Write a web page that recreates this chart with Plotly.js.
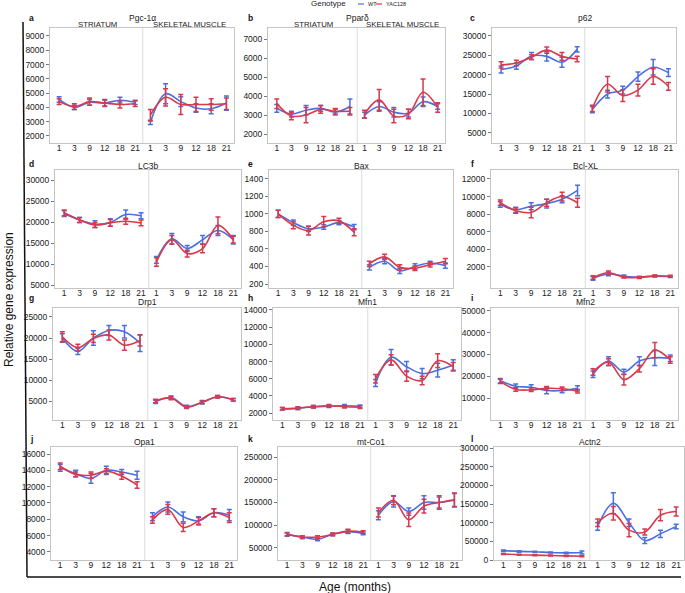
<!DOCTYPE html>
<html>
<head>
<meta charset="utf-8">
<script src="https://cdn.plot.ly/plotly-3.0.1.min.js"></script>
<style>
  html, body { margin: 0; padding: 0; background: #fff; }
  #chart { width: 685px; height: 593px; }
</style>
</head>
<body>
<div id="chart"></div>
<script>
// ages (months) shown under both tissue blocks
const ages = ['1', '3', '9', '12', '18', '21'];
const genes = ['Pgc-1α', 'Pparδ', 'p62', 'LC3b', 'Bax', 'Bcl-XL', 'Drp1', 'Mfn1', 'Mfn2', 'Opa1', 'mt-Co1', 'Actn2'];
const letters = ['a', 'b', 'c', 'd', 'e', 'f', 'g', 'h', 'i', 'j', 'k', 'l'];

// group means, one row per gene
const wtStriatum = [
  [4550, 4000, 4350, 4300, 4500, 4350],
  [3350, 3050, 3250, 3350, 3150, 3450],
  [21300, 22200, 24800, 24700, 23200, 26500],
  [22000, 20500, 19500, 19900, 21800, 21500],
  [1000, 900, 830, 850, 900, 850],
  [9100, 8500, 8900, 9200, 9700, 10700],
  [20000, 16800, 20000, 21800, 21500, 18800],
  [2500, 2550, 2750, 2800, 2850, 2800],
  [18000, 15500, 15000, 13500, 13500, 14500],
  [14300, 13600, 13000, 14000, 13800, 13400],
  [80000, 74000, 69000, 80000, 86000, 82000],
  [25000, 23000, 22000, 20000, 19000, 20000]
];
const wtStriatumErr = [
  [200, 150, 200, 200, 200, 150],
  [200, 150, 250, 150, 150, 400],
  [900, 800, 900, 1200, 1300, 700],
  [700, 600, 800, 900, 1100, 700],
  [40, 30, 30, 25, 25, 30],
  [300, 300, 400, 500, 400, 600],
  [1000, 700, 1700, 1200, 1500, 2000],
  [150, 150, 150, 150, 150, 150],
  [1000, 1000, 1200, 1500, 1000, 1200],
  [400, 400, 600, 500, 300, 500],
  [4000, 3000, 3000, 3000, 4000, 3000],
  [2000, 2000, 1500, 1500, 1500, 4000]
];
const yacStriatum = [
  [4400, 4050, 4400, 4300, 4200, 4250],
  [3600, 2950, 3000, 3300, 3200, 3200],
  [22500, 23000, 24500, 26300, 24700, 24000],
  [22200, 20500, 19300, 19800, 20200, 19800],
  [1000, 870, 810, 910, 920, 790],
  [9300, 8400, 8200, 9300, 10000, 9300],
  [20300, 17700, 19900, 20700, 18300, 19400],
  [2500, 2600, 2750, 2850, 2750, 2700],
  [17700, 14000, 13800, 14500, 14300, 13200],
  [14500, 13500, 13400, 13900, 13300, 12200],
  [80000, 74000, 74000, 80000, 87000, 85000],
  [16000, 14000, 13000, 12000, 11000, 10000]
];
const yacStriatumErr = [
  [200, 200, 250, 250, 250, 200],
  [250, 200, 400, 200, 150, 200],
  [800, 700, 600, 800, 1000, 700],
  [700, 600, 600, 800, 700, 700],
  [40, 40, 50, 60, 30, 40],
  [300, 300, 600, 400, 500, 500],
  [1200, 800, 1000, 1200, 1200, 1300],
  [150, 150, 150, 150, 150, 150],
  [1000, 800, 800, 800, 800, 800],
  [400, 300, 400, 300, 400, 400],
  [3000, 3000, 3000, 3000, 4000, 3000],
  [1500, 1500, 1500, 1500, 1500, 1500]
];
const wtMuscle = [
  [2950, 4950, 4400, 3950, 3900, 4300],
  [3000, 3450, 3150, 3100, 3700, 3450],
  [11000, 15000, 16000, 19500, 21900, 20500],
  [11000, 16000, 13700, 15800, 18000, 15800],
  [390, 460, 350, 400, 440, 410],
  [700, 1200, 950, 850, 950, 900],
  [4800, 5800, 3700, 4700, 6000, 5300],
  [5500, 8500, 7400, 6600, 7000, 7600],
  [21000, 27000, 22000, 27000, 28500, 28300],
  [8300, 9500, 8300, 7800, 8800, 8500],
  [122000, 152000, 130000, 150000, 150000, 155000],
  [90000, 152000, 100000, 52000, 70000, 90000]
];
const wtMuscleErr = [
  [150, 700, 350, 300, 350, 500],
  [150, 250, 250, 200, 250, 150],
  [800, 1000, 1000, 1200, 2000, 1000],
  [800, 1300, 700, 1000, 1200, 1000],
  [30, 30, 30, 30, 20, 30],
  [200, 200, 150, 100, 100, 100],
  [400, 400, 300, 400, 300, 300],
  [400, 900, 600, 600, 800, 600],
  [1500, 2000, 1200, 2000, 3500, 1500],
  [500, 600, 600, 500, 500, 700],
  [10000, 12000, 8000, 15000, 12000, 15000],
  [10000, 28000, 10000, 8000, 10000, 6000]
];
const yacMuscle = [
  [3450, 4700, 4200, 4200, 4200, 4250],
  [3050, 3800, 2950, 3050, 4200, 3400],
  [11300, 17500, 14600, 16000, 19500, 17000],
  [10500, 15800, 12500, 13700, 19200, 15800],
  [430, 510, 390, 380, 420, 460],
  [800, 1350, 850, 800, 1000, 950],
  [5000, 5700, 3500, 4700, 6000, 5300],
  [6000, 8200, 6300, 5800, 8100, 7400],
  [22000, 26500, 18500, 23500, 32000, 27500],
  [7900, 9200, 7000, 7800, 8800, 8200],
  [128000, 155000, 112000, 142000, 150000, 156000],
  [100000, 125000, 80000, 75000, 120000, 130000]
];
const yacMuscleErr = [
  [400, 600, 700, 500, 400, 400],
  [200, 550, 350, 250, 700, 250],
  [800, 2000, 1500, 1500, 2000, 1000],
  [1000, 1000, 800, 1000, 2000, 800],
  [30, 30, 30, 25, 25, 30],
  [200, 200, 100, 100, 100, 100],
  [400, 400, 300, 300, 300, 300],
  [500, 600, 600, 500, 800, 500],
  [1500, 1500, 2500, 1500, 3500, 1500],
  [400, 600, 500, 400, 500, 600],
  [10000, 10000, 15000, 15000, 15000, 15000],
  [10000, 18000, 18000, 8000, 15000, 12000]
];

// y axis ranges and tick steps per panel
const yRanges = [
  [1500, 9560], [1530, 7580], [2400, 32000],
  [4300, 32400], [155, 1500], [-390, 13020],
  [480, 27140], [1200, 14230], [0, 51300],
  [3000, 16860], [23600, 272000], [0, 302700]
];
const yTicks = [
  [2000, 9000, 1000], [2000, 7000, 1000], [5000, 30000, 5000],
  [5000, 30000, 5000], [200, 1400, 200], [2000, 12000, 2000],
  [5000, 25000, 5000], [2000, 14000, 2000], [10000, 50000, 10000],
  [4000, 16000, 2000], [50000, 250000, 50000], [0, 300000, 50000]
];

const W = 685, H = 593;
// plot boxes in pixels: left, right, top, bottom
const boxes = [
  [50, 234, 28, 143], [268, 445, 28, 143], [492, 676, 28, 143],
  [55, 241, 170, 288], [269, 453, 170, 288], [491, 678, 170, 288],
  [53, 241, 308, 420], [273, 461, 308, 420], [491, 678, 308, 420],
  [51, 237, 447, 560], [278, 462, 447, 560], [494, 684, 447, 560]
];
const rowTitleY = [18, 166, 302, 442];
const rowLetterY = [18, 164, 298, 439];
const colLetterX = [31, 250, 472];

const blue = '#4a70e0';
const red = '#d8394c';
const font = 'Liberation Sans, Arial, sans-serif';

const traces = [];
const layout = {
  width: W, height: H,
  margin: { l: 0, r: 0, t: 0, b: 0 },
  paper_bgcolor: '#fff', plot_bgcolor: '#fff',
  showlegend: false,
  font: { family: font, size: 8.5, color: '#222' },
  shapes: [], annotations: []
};

function line(x, vals, errs, color, xa, ya) {
  return {
    x: x, y: vals, xaxis: xa, yaxis: ya,
    type: 'scatter', mode: 'lines',
    line: { color: color, width: 1.6, shape: 'spline', smoothing: 1 },
    error_y: { type: 'data', array: errs, color: color, thickness: 1.5, width: 2.5 },
    hoverinfo: 'skip'
  };
}

const xStr = [0, 1, 2, 3, 4, 5];
const xMus = [6, 7, 8, 9, 10, 11];

for (let p = 0; p < 12; p++) {
  const s = p === 0 ? '' : String(p + 1);
  const xa = 'x' + s, ya = 'y' + s;
  const [L, R, T, B] = boxes[p];
  const [t0, t1, dt] = yTicks[p];
  const tv = [];
  for (let v = t0; v <= t1; v += dt) tv.push(v);

  layout['xaxis' + s] = {
    domain: [L / W, R / W], anchor: ya,
    range: [-0.6, 11.5],
    tickmode: 'array', tickvals: [0, 1, 2, 3, 4, 5, 6, 7, 8, 9, 10, 11],
    ticktext: ages.concat(ages),
    ticks: '', ticklabelstandoff: -3,
    showgrid: false, zeroline: false,
    showline: true, mirror: true, linecolor: '#c4c4c4', linewidth: 1,
    tickfont: { size: 8.5, family: font, color: '#222' }
  };
  layout['yaxis' + s] = {
    domain: [1 - B / H, 1 - T / H], anchor: xa,
    range: yRanges[p],
    tickmode: 'array', tickvals: tv, tickformat: 'd',
    ticks: 'outside', ticklen: 3, tickcolor: '#777',
    showgrid: false, zeroline: false,
    showline: true, mirror: true, linecolor: '#c4c4c4', linewidth: 1,
    tickfont: { size: 8.5, family: font, color: '#222' }
  };

  traces.push(line(xStr, wtStriatum[p], wtStriatumErr[p], blue, xa, ya));
  traces.push(line(xMus, wtMuscle[p], wtMuscleErr[p], blue, xa, ya));
  traces.push(line(xStr, yacStriatum[p], yacStriatumErr[p], red, xa, ya));
  traces.push(line(xMus, yacMuscle[p], yacMuscleErr[p], red, xa, ya));

  // divider between striatum and skeletal muscle
  layout.shapes.push({
    type: 'line', xref: xa, yref: ya + ' domain',
    x0: 5.5, x1: 5.5, y0: 0, y1: 1,
    line: { color: '#dcdcdc', width: 1 }
  });

  const row = Math.floor(p / 3), col = p % 3;
  layout.annotations.push({
    text: genes[p], xref: xa, yref: 'paper', x: 5.5, y: 1 - rowTitleY[row] / H,
    showarrow: false, xanchor: 'center', yanchor: 'middle',
    font: { size: 8.5, family: font, color: '#222' }
  });
  layout.annotations.push({
    text: '<b>' + letters[p] + '</b>', xref: 'paper', yref: 'paper',
    x: colLetterX[col] / W, y: 1 - rowLetterY[row] / H,
    showarrow: false, xanchor: 'center', yanchor: 'middle',
    font: { size: 8.5, family: font, color: '#111' }
  });
}

// tissue headers on the first two panels
[['x', 2.5, 'STRIATUM'], ['x', 8.6, 'SKELETAL MUSCLE'], ['x2', 2.5, 'STRIATUM'], ['x2', 8.6, 'SKELETAL MUSCLE']].forEach(h => {
  layout.annotations.push({
    text: h[2], xref: h[0], yref: 'paper', x: h[1], y: 1 - 24.5 / H,
    showarrow: false, xanchor: 'center', yanchor: 'middle',
    font: { size: 7.8, family: font, color: '#222' }
  });
});

// legend
layout.annotations.push(
  { text: 'Genotype', xref: 'paper', yref: 'paper', x: 328 / W, y: 1 - 4 / H, showarrow: false,
    xanchor: 'center', yanchor: 'middle', font: { size: 8, family: font, color: '#222' } },
  { text: 'WT', xref: 'paper', yref: 'paper', x: 366 / W, y: 1 - 4 / H, showarrow: false,
    xanchor: 'left', yanchor: 'middle', font: { size: 5.5, family: font, color: '#222' } },
  { text: 'YAC128', xref: 'paper', yref: 'paper', x: 384 / W, y: 1 - 4 / H, showarrow: false,
    xanchor: 'left', yanchor: 'middle', font: { size: 5.5, family: font, color: '#222' } }
);
layout.shapes.push(
  { type: 'line', xref: 'paper', yref: 'paper', x0: 358 / W, x1: 364 / W, y0: 1 - 4 / H, y1: 1 - 4 / H,
    line: { color: blue, width: 1.2 } },
  { type: 'line', xref: 'paper', yref: 'paper', x0: 376 / W, x1: 382 / W, y0: 1 - 4 / H, y1: 1 - 4 / H,
    line: { color: red, width: 1.2 } }
);

// outer frame and shared axis titles
layout.shapes.push(
  { type: 'line', xref: 'paper', yref: 'paper', x0: 23 / W, x1: 27 / W, y0: 1 - 22 / H, y1: 1 - 577 / H,
    line: { color: '#111', width: 1.5 } },
  { type: 'line', xref: 'paper', yref: 'paper', x0: 27 / W, x1: 681 / W, y0: 1 - 577 / H, y1: 1 - 577 / H,
    line: { color: '#111', width: 1.5 } }
);
layout.annotations.push(
  { text: 'Relative gene expression', xref: 'paper', yref: 'paper', x: 9 / W, y: 1 - 300 / H,
    textangle: -90, showarrow: false, xanchor: 'center', yanchor: 'middle',
    font: { size: 12, family: font, color: '#111' } },
  { text: 'Age (months)', xref: 'paper', yref: 'paper', x: 355 / W, y: 1 - 587 / H,
    showarrow: false, xanchor: 'center', yanchor: 'middle',
    font: { size: 12, family: font, color: '#111' } }
);

Plotly.newPlot('chart', traces, layout, { displayModeBar: false, staticPlot: true });
</script>
</body>
</html>
